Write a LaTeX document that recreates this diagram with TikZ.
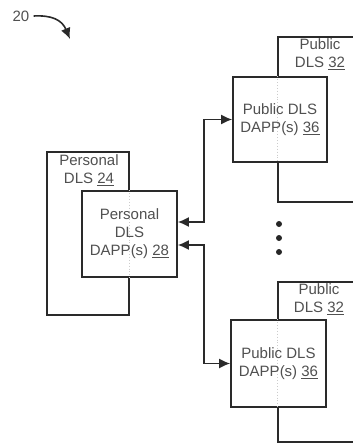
\documentclass[tikz,border=0pt]{standalone}
\usepackage{fontspec}
\setmainfont{Liberation Sans}
\usetikzlibrary{arrows.meta}
\definecolor{linec}{HTML}{2A2A2A}
\definecolor{txtc}{HTML}{505050}
\tikzset{
  outerbox/.style={draw=linec, line width=1.6pt, fill=white, inner sep=0pt},
  dappbox/.style={draw=linec, line width=1.6pt, fill=white, inner sep=0pt, align=center,
     font=\fontsize{15pt}{18pt}\selectfont, text=txtc},
  lbltxt/.style={align=center, font=\fontsize{15pt}{18pt}\selectfont, text=txtc, inner sep=0pt},
  overlap/.style={draw=black!20, line width=0.9pt, dotted},
  conn/.style={draw=linec, line width=1.6pt, {Latex[length=11pt,width=10pt]}-{Latex[length=11pt,width=10pt]}},
  dotn/.style={circle, fill=black!85, inner sep=0pt, minimum size=6pt},
}
\begin{document}
\begin{tikzpicture}[x=1pt,y=-1pt]
\useasboundingbox (0,0) rectangle (353,444);
\clip (0,0) rectangle (353,444);
% label 20
\node[lbltxt] (fig) at (21,16) {20};
\coordinate (figtip) at (70,39);
\draw[draw=linec, line width=1.6pt, -{Latex[length=11pt,width=10pt]}] ([xshift=4pt]fig.east) .. controls (52,15) and (62,20) .. (figtip);
% top public
\node[outerbox, minimum width=102pt, minimum height=165pt] (pub1) at (329,119.5) {};
\node[lbltxt] (pub1t) at (320,54) {Public\\DLS \underline{32}};
\node[dappbox, minimum width=94pt, minimum height=85pt] (pd1) at (280,119.5) {};
\draw[overlap] (pub1.north west |- pd1.north) -- (pub1.north west |- pd1.south);
\node[lbltxt] at (pd1) {Public DLS\\DAPP(s) \underline{36}};
% personal
\node[outerbox, minimum width=82pt, minimum height=163pt] (per) at (88,233.5) {};
\node[lbltxt] (pert) at (89,170) {Personal\\DLS \underline{24}};
\node[dappbox, minimum width=95pt, minimum height=86pt] (pd28) at (129.5,234) {};
\draw[overlap] (per.north east |- pd28.north) -- (per.north east |- pd28.south);
\node[lbltxt] at (pd28) {Personal\\DLS\\DAPP(s) \underline{28}};
% bottom public
\node[outerbox, minimum width=102pt, minimum height=160pt] (pub2) at (329,362) {};
\node[lbltxt] (pub2t) at (319,299) {Public\\DLS \underline{32}};
\node[dappbox, minimum width=95pt, minimum height=87pt] (pd2) at (278.5,363.5) {};
\draw[overlap] (pub2.north west |- pd2.north) -- (pub2.north west |- pd2.south);
\node[lbltxt] at (pd2) {Public DLS\\DAPP(s) \underline{36}};
% connectors
\draw[conn] ([yshift=12pt]pd28.east) -- ++(26,0) |- (pd1.west);
\draw[conn] ([yshift=-11pt]pd28.east) -- ++(26,0) |- (pd2.west);
% dots
\node[dotn] (d1) at (279,224) {};
\node[dotn] (d2) at (279,238) {};
\node[dotn] (d3) at (279,252) {};
\end{tikzpicture}
\end{document}
